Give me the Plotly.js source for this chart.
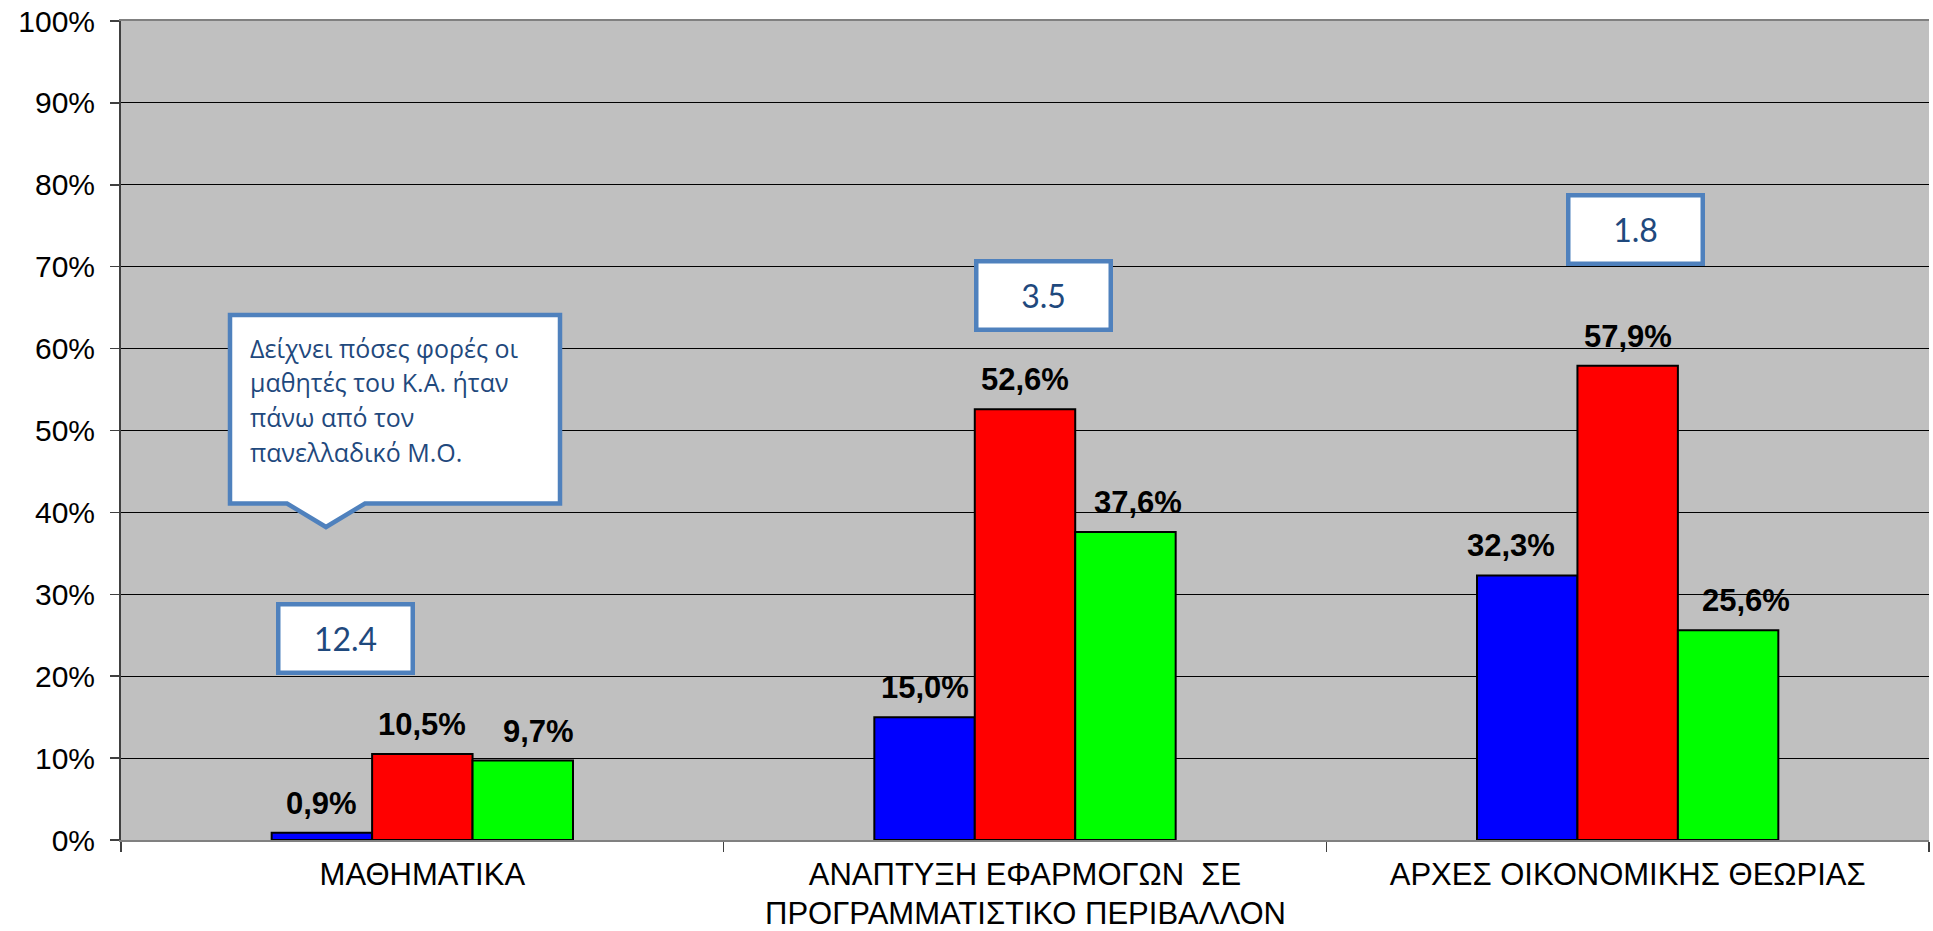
<!DOCTYPE html>
<html>
<head>
<meta charset="utf-8">
<script src="https://cdn.plot.ly/plotly-3.0.1.min.js"></script>
<style>html,body{margin:0;padding:0;background:#fff;}#chart{width:1933px;height:931px;}</style>
</head>
<body>
<div id="chart"></div>
<script>
// ---------------- data ----------------
const categories = ['ΜΑΘΗΜΑΤΙΚΑ', 'ΑΝΑΠΤΥΞΗ ΕΦΑΡΜΟΓΩΝ ΣΕ ΠΡΟΓΡΑΜΜΑΤΙΣΤΙΚΟ ΠΕΡΙΒΑΛΛΟΝ', 'ΑΡΧΕΣ ΟΙΚΟΝΟΜΙΚΗΣ ΘΕΩΡΙΑΣ'];
const categoryLabelLines = [
  ['ΜΑΘΗΜΑΤΙΚΑ'],
  ['ΑΝΑΠΤΥΞΗ ΕΦΑΡΜΟΓΩΝ \u00a0ΣΕ', 'ΠΡΟΓΡΑΜΜΑΤΙΣΤΙΚΟ ΠΕΡΙΒΑΛΛΟΝ'],
  ['ΑΡΧΕΣ ΟΙΚΟΝΟΜΙΚΗΣ ΘΕΩΡΙΑΣ']
];
const seriesBlue = [0.009, 0.150, 0.323];
const seriesRed = [0.105, 0.526, 0.579];
const seriesGreen = [0.097, 0.376, 0.256];
const ratioValues = [12.4, 3.5, 1.8];
const calloutText = ['Δείχνει πόσες φορές οι', 'μαθητές του Κ.Α. ήταν', 'πάνω από τον', 'πανελλαδικό Μ.Ο.'];
const yTickVals = [0, 0.1, 0.2, 0.3, 0.4, 0.5, 0.6, 0.7, 0.8, 0.9, 1.0];

// ---------------- styling / layout constants ----------------
const W = 1933, H = 931;
const M = {l: 121, r: 4, t: 21, b: 91};
const PW = W - M.l - M.r, PH = H - M.t - M.b;
const series = [
  {name: 'Σειρά 1', values: seriesBlue, color: '#0000FF'},
  {name: 'Σειρά 2', values: seriesRed, color: '#FF0000'},
  {name: 'Σειρά 3', values: seriesGreen, color: '#00FF00'}
];
// manual nudges (px) of the value labels, as placed in the original
const labelNudge = [[0, 0, 16], [0, 0, 13], [-16, 0, 18]];
// ratio boxes: position in category units / axis fraction
const ratioBoxPos = [{x: -0.128, y: 0.2466}, {x: 1.0315, y: 0.6654}, {x: 2.0138, y: 0.746}];

const armFont = 'Liberation Sans, Arial, sans-serif';
const boxBlue = '#4F81BD';
const boxText = '#1F497D';

const px2paperX = px => (px - M.l) / PW;
const px2paperY = py => (H - M.b - py) / PH;

const traces = series.map(s => ({
  type: 'bar',
  name: s.name,
  x: categories,
  y: s.values,
  marker: {color: s.color, line: {color: '#000000', width: 2}},
  showlegend: false,
  hoverinfo: 'skip'
}));

const annotations = [];
// value labels
const nS = series.length;
series.forEach((s, j) => {
  s.values.forEach((v, i) => {
    annotations.push({
      xref: 'x', yref: 'y',
      x: i + (j - (nS - 1) / 2) / (nS * 2),
      y: v,
      text: (v * 100).toFixed(1).replace('.', ',') + '%',
      showarrow: false,
      xanchor: 'center', yanchor: 'bottom',
      xshift: labelNudge[i][j],
      yshift: 11,
      borderpad: 0,
      font: {family: armFont, size: 31, color: '#000', weight: 'bold'}
    });
  });
});
// ratio boxes
ratioValues.forEach((r, i) => {
  annotations.push({
    xref: 'x', yref: 'y',
    x: ratioBoxPos[i].x, y: ratioBoxPos[i].y,
    text: String(r),
    showarrow: false,
    xanchor: 'center', yanchor: 'middle',
    bgcolor: '#FFFFFF', bordercolor: boxBlue, borderwidth: 4.5, borderpad: 0,
    width: 130, height: 64,
    align: 'center', valign: 'middle',
    font: {family: 'Lato, Open Sans, sans-serif', size: 32, color: boxText}
  });
});
// extra lines of category labels
categoryLabelLines.forEach((lines, i) => {
  lines.slice(1).forEach((ln, k) => {
    annotations.push({
      xref: 'x', yref: 'paper', x: i, y: 0,
      text: ln, showarrow: false,
      xanchor: 'center', yanchor: 'top',
      yshift: -55 - 33 * k,
      borderpad: 0,
      font: {family: armFont, size: 31, color: '#000'}
    });
  });
});
// callout text, one annotation per line for the original line spacing
const calloutTop = 329, calloutLineStep = 34.5;
calloutText.forEach((ln, k) => {
  annotations.push({
    xref: 'paper', yref: 'paper',
    x: px2paperX(248), y: px2paperY(calloutTop + k * calloutLineStep),
    xanchor: 'left', yanchor: 'top',
    text: ln, align: 'left', showarrow: false,
    font: {family: 'Open Sans, Noto Sans, sans-serif', size: 25, color: boxText}
  });
});

// callout shape (box with pointer)
const cL = 230, cR = 560, cT = 315, cB = 503.5, pA = 287, pB = 365, tipX = 326, tipY = 527;
const pts = [[cL, cT], [cR, cT], [cR, cB], [pB, cB], [tipX, tipY], [pA, cB], [cL, cB]];
const calloutPath = 'M ' + pts.map(p => px2paperX(p[0]).toFixed(5) + ',' + px2paperY(p[1]).toFixed(5)).join(' L ') + ' Z';

const layout = {
  width: W, height: H,
  margin: {l: M.l, r: M.r, t: M.t, b: M.b, pad: 0},
  paper_bgcolor: '#FFFFFF',
  plot_bgcolor: '#C0C0C0',
  barmode: 'group',
  bargap: 0.5,
  bargroupgap: 0,
  showlegend: false,
  font: {family: armFont, color: '#000'},
  xaxis: {
    type: 'category',
    tickvals: categories,
    ticktext: categoryLabelLines.map(l => l[0]),
    tickson: 'boundaries',
    ticks: 'outside', ticklen: 10, tickwidth: 1.5, tickcolor: '#404040',
    showline: true, mirror: true, linecolor: '#808080', linewidth: 2,
    showgrid: false, zeroline: false,
    tickfont: {family: armFont, size: 31, color: '#000'},
    ticklabelstandoff: 6
  },
  yaxis: {
    range: [0, 1],
    tickvals: yTickVals,
    tickformat: '.0%',
    ticks: 'outside', ticklen: 9, tickwidth: 1.5, tickcolor: '#404040',
    showline: true, linecolor: '#404040', linewidth: 2,
    showgrid: true, gridcolor: '#000000', gridwidth: 1,
    zeroline: false,
    tickfont: {family: armFont, size: 30, color: '#000'},
    ticklabelstandoff: 9
  },
  shapes: [{
    type: 'path', xref: 'paper', yref: 'paper', path: calloutPath,
    fillcolor: '#FFFFFF', line: {color: boxBlue, width: 4.5}, layer: 'above'
  }],
  annotations: annotations
};

Plotly.newPlot('chart', traces, layout, {displayModeBar: false, staticPlot: true});
</script>
</body>
</html>
